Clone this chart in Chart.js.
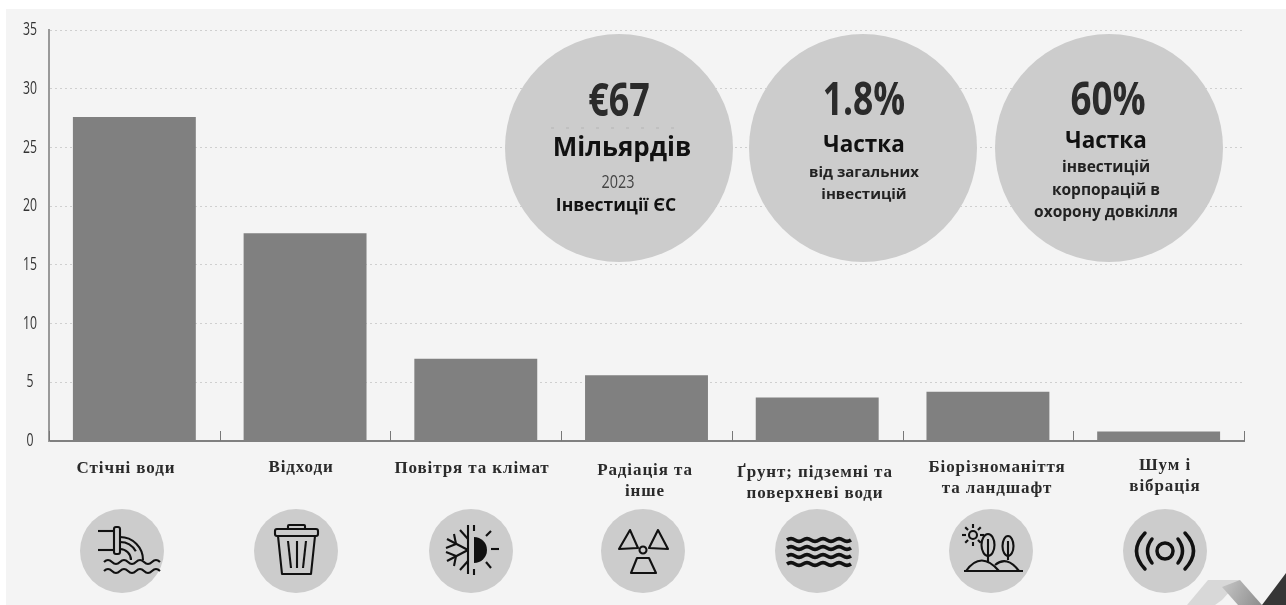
<!DOCTYPE html>
<html>
<head>
<meta charset="utf-8">
<script src="https://cdn.jsdelivr.net/npm/chart.js@4"></script>
<style>
html, body { margin: 0; padding: 0; background: #fff; overflow: hidden; }
#wrap { width: 1286px; height: 605px; position: relative; }
</style>
</head>
<body>
<div id="wrap"><canvas id="myChart" width="1286" height="605"></canvas></div>
<script>
const categories = ["Стічні води", "Відходи", "Повітря та клімат", "Радіація та інше", "Ґрунт; підземні та поверхневі води", "Біорізноманіття та ландшафт", "Шум і вібрація"];
const labelLines = [["Стічні води"], ["Відходи"], ["Повітря та клімат"], ["Радіація та", "інше"], ["Ґрунт; підземні та", "поверхневі води"], ["Біорізноманіття", "та ландшафт"], ["Шум і", "вібрація"]];
const values = [27.6, 17.7, 7.0, 5.6, 3.7, 4.2, 0.8];
const yTicks = [0, 5, 10, 15, 20, 25, 30, 35];

// overlay positions, the labels and icons do not sit exactly under the bars
const bubbleX = [619, 863, 1109];
const labelX = [126, 301, 472, 645, 815, 997, 1165];
const labelY = [469, 468, 469, 471, 473, 468, 466];
const iconX = [122, 296, 471, 643, 817, 991, 1165];

const sans = '"Open Sans", "Noto Sans", sans-serif';
const serif = '"Liberation Serif", serif';

// squeeze = horizontal scale, there is no condensed font installed
const text = (ctx, str, x, y, font, color, squeeze = 1) => {
    ctx.save();
    ctx.translate(x, y);
    ctx.scale(squeeze, 1);
    ctx.font = font;
    ctx.fillStyle = color;
    ctx.textAlign = "center";
    ctx.textBaseline = "middle";
    ctx.fillText(str, 0, 0);
    ctx.restore();
}

const line = (ctx, x0, y0, x1, y1) => {
    ctx.beginPath();
    ctx.moveTo(x0, y0);
    ctx.lineTo(x1, y1);
    ctx.stroke();
}

const poly = (ctx, pts, close = true) => {
    ctx.beginPath();
    pts.forEach((p, i) => i == 0 ? ctx.moveTo(p[0], p[1]) : ctx.lineTo(p[0], p[1]));
    if (close) ctx.closePath();
}

const wave = (ctx, x0, x1, y, period, amp) => {
    ctx.beginPath();
    ctx.moveTo(x0, y);
    let up = true;
    for (let x = x0; x < x1; x += period / 2) {
        ctx.quadraticCurveTo(x + period / 4, y + (up ? -amp : amp) * 2, x + period / 2, y);
        up = !up;
    }
    ctx.stroke();
}

const icons = [
    // pipe
    (ctx) => {
        line(ctx, -24, -20, -8, -20);
        line(ctx, -24, -1, -8, -1);
        ctx.beginPath();
        ctx.roundRect(-8, -24, 6, 27, 2);
        ctx.stroke();
        ctx.beginPath();
        ctx.arc(-2, 9, 23, -Math.PI / 2, 0);
        ctx.stroke();
        ctx.beginPath();
        ctx.arc(-2, 9, 18, -Math.PI / 2, -0.5);
        ctx.stroke();
        ctx.beginPath();
        ctx.arc(-2, 9, 11, -Math.PI / 2, 0);
        ctx.stroke();
        wave(ctx, -18, 31, 11, 16, 2);
        wave(ctx, -18, 31, 20, 16, 2);
    },
    // bin
    (ctx) => {
        ctx.beginPath();
        ctx.roundRect(-21, -22, 43, 7, 2);
        ctx.stroke();
        ctx.beginPath();
        ctx.roundRect(-8, -26, 17, 4, 1);
        ctx.stroke();
        poly(ctx, [[-18, -15], [-14, 23], [15, 23], [19, -15]], false);
        ctx.stroke();
        line(ctx, -8, -10, -5, 17);
        line(ctx, 1, -10, 1, 17);
        line(ctx, 10, -10, 7, 17);
    },
    // snow and sun
    (ctx) => {
        line(ctx, -3, -26, -3, 23);
        line(ctx, -3, -1, -24, -12);
        line(ctx, -3, -1, -24, 10);
        line(ctx, -15, -7, -17, -17);
        line(ctx, -15, -7, -25, -3);
        line(ctx, -15, 5, -17, 15);
        line(ctx, -15, 5, -25, 1);
        line(ctx, -3, -12, -11, -21);
        line(ctx, -3, 10, -11, 19);
        ctx.beginPath();
        ctx.arc(3, -1, 13, -Math.PI / 2, Math.PI / 2);
        ctx.fill();
        line(ctx, 3, -26, 3, -20);
        line(ctx, 3, 18, 3, 24);
        line(ctx, 20, -2, 28, -2);
        line(ctx, 15, -15, 20, -20);
        line(ctx, 15, 11, 20, 17);
    },
    // radiation
    (ctx) => {
        ctx.beginPath();
        ctx.arc(0, -1, 3.5, 0, Math.PI * 2);
        ctx.stroke();
        poly(ctx, [[-13, -21], [-5, -3], [-24, -2]]);
        ctx.stroke();
        poly(ctx, [[15, -21], [6, -3], [25, -2]]);
        ctx.stroke();
        poly(ctx, [[-6, 7], [6, 7], [13, 22], [-12, 22]]);
        ctx.stroke();
    },
    // water
    (ctx) => {
        ctx.lineWidth = 3.5;
        [-11, -3, 5, 13].forEach(y => wave(ctx, -30, 30, y, 16, 1.4));
    },
    // landscape
    (ctx) => {
        ctx.beginPath();
        ctx.arc(-18, -16, 4, 0, Math.PI * 2);
        ctx.stroke();
        for (let a = 0; a < 8; a++) {
            const c = Math.cos(a * Math.PI / 4), s = Math.sin(a * Math.PI / 4);
            line(ctx, -18 + c * 7, -16 + s * 7, -18 + c * 11, -16 + s * 11);
        }
        ctx.beginPath();
        ctx.ellipse(-3, -6, 6.5, 11, 0, 0, Math.PI * 2);
        ctx.stroke();
        line(ctx, -3, -12, -3, 11);
        ctx.beginPath();
        ctx.ellipse(17, -5, 5.5, 10, 0, 0, Math.PI * 2);
        ctx.stroke();
        line(ctx, 17, -10, 17, 9);
        line(ctx, -27, 20, 32, 20);
        ctx.beginPath();
        ctx.moveTo(-25, 20);
        ctx.quadraticCurveTo(-10, -1, 8, 20);
        ctx.stroke();
        ctx.beginPath();
        ctx.moveTo(4, 14);
        ctx.quadraticCurveTo(16, 4, 28, 20);
        ctx.stroke();
    },
    // sound
    (ctx) => {
        ctx.lineWidth = 3.5;
        ctx.lineCap = "round";
        ctx.beginPath();
        ctx.arc(0, 0, 8, 0, Math.PI * 2);
        ctx.stroke();
        [-1, 1].forEach(d => {
            ctx.beginPath();
            ctx.moveTo(d * 13, -12);
            ctx.quadraticCurveTo(d * 22, 0, d * 13, 12);
            ctx.stroke();
            ctx.beginPath();
            ctx.moveTo(d * 20, -18);
            ctx.quadraticCurveTo(d * 37, 0, d * 20, 18);
            ctx.stroke();
        });
    }
];

const panelPlugin = {
    id: "panel",
    beforeDraw: (chart) => {
        const ctx = chart.ctx;
        ctx.save();
        ctx.fillStyle = "#f4f4f4";
        ctx.fillRect(6, 9, 1280, 596);
        ctx.restore();
    }
};

const drawBubbles = (ctx) => {
    bubbleX.forEach(x => {
        ctx.beginPath();
        ctx.arc(x, 148, 114, 0, Math.PI * 2);
        ctx.fillStyle = "#cccccc";
        ctx.fill();
    });
    const dark = "#2b2b2b";
    text(ctx, "€67", 619, 103, `bold 46px ${sans}`, dark, 0.78);
    ctx.save();
    ctx.strokeStyle = "#b4b4b4";
    ctx.setLineDash([3, 12]);
    line(ctx, 551, 128, 677, 128);
    ctx.restore();
    text(ctx, "Мільярдів", 622, 149, `bold 26px ${sans}`, "#111");
    text(ctx, "2023", 618, 183, `18px ${sans}`, "#444", 0.8);
    text(ctx, "Інвестиції ЄС", 616, 206, `bold 17.5px ${sans}`, "#111");
    text(ctx, "1.8%", 864, 102, `bold 46px ${sans}`, dark, 0.77);
    text(ctx, "Частка", 864, 146, `bold 22.5px ${sans}`, "#111");
    text(ctx, "від загальних", 864, 173, `bold 15px ${sans}`, "#222");
    text(ctx, "інвестицій", 864, 195, `bold 15px ${sans}`, "#222");
    text(ctx, "60%", 1108, 102, `bold 46px ${sans}`, dark, 0.8);
    text(ctx, "Частка", 1106, 142, `bold 22.5px ${sans}`, "#111");
    text(ctx, "інвестицій", 1106, 168, `bold 15.5px ${sans}`, "#222");
    text(ctx, "корпорацій в", 1106, 191, `bold 15.5px ${sans}`, "#222");
    text(ctx, "охорону довкілля", 1106, 213, `bold 15.5px ${sans}`, "#222");
}

const drawLogo = (ctx) => {
    const g = ctx.createLinearGradient(1222, 585, 1262, 605);
    g.addColorStop(0, "#c4c4c4");
    g.addColorStop(1, "#8c8c8c");
    ctx.fillStyle = "#d8d8d8";
    poly(ctx, [[1187, 605], [1208, 580], [1240, 580], [1222, 600], [1215, 605]]);
    ctx.fill();
    ctx.fillStyle = g;
    poly(ctx, [[1240, 580], [1262, 605], [1238, 605], [1222, 587]]);
    ctx.fill();
    ctx.fillStyle = "#363636";
    poly(ctx, [[1262, 605], [1286, 573], [1286, 605]]);
    ctx.fill();
}

const decorPlugin = {
    id: "decor",
    afterDatasetsDraw: (chart) => {
        const ctx = chart.ctx;
        const xScale = chart.scales.x;
        const yScale = chart.scales.y;
        const base = yScale.getPixelForValue(0);
        ctx.save();

        // ticks between the categories, they point up from the axis
        ctx.strokeStyle = "#777";
        ctx.lineWidth = 1;
        for (let i = 0; i <= categories.length; i++) {
            const x = Math.round(xScale.getPixelForValue(i - 0.5)) + 0.5;
            line(ctx, x, base, x, base - 10);
        }

        yTicks.forEach(v => {
            text(ctx, String(v), 30, yScale.getPixelForValue(v), `18px ${sans}`, "#333", 0.68);
        });

        drawBubbles(ctx);

        labelLines.forEach((lines, i) => {
            lines.forEach((str, n) => {
                ctx.letterSpacing = "0.9px";
                text(ctx, str, labelX[i], labelY[i] + n * 20.5, `bold 17px ${serif}`, "#2a2a2a");
                ctx.letterSpacing = "0px";
            });
        });

        iconX.forEach((x, i) => {
            ctx.beginPath();
            ctx.arc(x, 551, 42, 0, Math.PI * 2);
            ctx.fillStyle = "#cccccc";
            ctx.fill();
            ctx.save();
            ctx.translate(x, 551);
            ctx.strokeStyle = "#111";
            ctx.fillStyle = "#111";
            ctx.lineWidth = 2.1;
            ctx.lineJoin = "round";
            icons[i](ctx);
            ctx.restore();
        });

        drawLogo(ctx);
        ctx.restore();
    }
};

new Chart("myChart", {
    type: "bar",
    data: {
        labels: categories,
        datasets: [{
            data: values,
            backgroundColor: "#808080",
            barPercentage: 0.72,
            categoryPercentage: 1
        }]
    },
    options: {
        responsive: false,
        animation: false,
        layout: { padding: { left: 0, top: 30, right: 42, bottom: 164 } },
        plugins: {
            legend: { display: false },
            title: { display: false },
            tooltip: { enabled: false }
        },
        scales: {
            x: {
                grid: { display: false, drawTicks: false },
                border: { color: "#808080", width: 2 },
                ticks: { display: false }
            },
            y: {
                min: 0,
                max: 35,
                afterFit: (scale) => { scale.width = 49; },
                afterBuildTicks: (scale) => { scale.ticks = yTicks.map(v => ({ value: v })); },
                grid: { color: "#cfcfcf", drawTicks: false, tickLength: 0 },
                border: { color: "#999999", width: 2, dash: [2, 3] },
                ticks: { display: false }
            }
        }
    },
    plugins: [panelPlugin, decorPlugin]
});
</script>
</body>
</html>
